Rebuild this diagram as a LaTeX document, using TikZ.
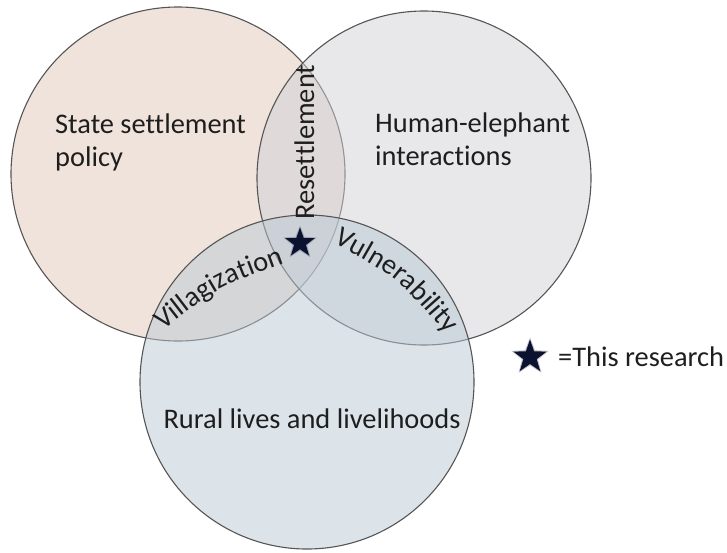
\documentclass[tikz,border=0pt]{standalone}
\usepackage{fontspec}
\setmainfont{Carlito}[Ligatures={NoCommon,NoRare,NoContextual}]
\usetikzlibrary{shapes.geometric,decorations.text}
\definecolor{ink}{HTML}{1E1E1E}
\definecolor{policyfill}{HTML}{E1C7B7}
\definecolor{elephantfill}{HTML}{D1D1D7}
\definecolor{ruralfill}{HTML}{B9C9D5}
\definecolor{rim}{HTML}{555555}
\definecolor{starblue}{HTML}{0B1230}
\newcommand\vennfont{\fontsize{28.4}{33}\selectfont}

\begin{document}
\begin{tikzpicture}[x=1pt,y=-1pt,
  venn/.style={circle, minimum size=334pt, inner sep=0pt, draw=rim,
               line width=1.1pt, fill opacity=0.5},
  vennlabel/.style={font=\vennfont, text=ink, inner sep=0pt},
  researchstar/.style={star, star points=5, star point ratio=2.5,
                       fill=starblue, inner sep=0pt},
  starhalo/.style={star, star points=5, star point ratio=2.3,
                   fill=starblue, fill opacity=0.25, inner sep=0pt},
  arctext/.style={decorate, decoration={text along path, text={|\vennfont|#1},
                  text align=center, text color=ink}}]
\useasboundingbox (0,0) rectangle (727,552);

% the three sets
\node[venn, fill=policyfill]   (policy)   at (178,174) {};
\node[venn, fill=elephantfill] (elephant) at (424,178) {};
\node[venn, fill=ruralfill]    (rural)    at (307,382) {};

% set labels
\node[vennlabel, anchor=base west, align=left] (policytext) at (55,166)
  {State settlement\\policy};
\node[vennlabel, anchor=base west, align=left] (elephanttext) at (375,165)
  {Human-elephant\\interactions};
\node[vennlabel, anchor=base] (ruraltext) at (312,428)
  {Rural lives and livelihoods};

% overlap labels
\node[vennlabel, anchor=base, rotate=90] (resettle) at (314,142) {Resettlement};
\path[arctext=Villagization] (160,333) .. controls (218,287) .. (288,262);
\path[arctext=Vulnerability] (332,242) .. controls (398,278) .. (448,336);

% research focus
\node[starhalo, minimum size=35pt] (focushalo) at (300,243) {};
\node[researchstar, minimum size=31pt] (focus) at (300,243) {};

% legend
\node[starhalo, minimum size=39pt] (keyhalo) at (530,357) {};
\node[researchstar, minimum size=35pt] (keystar) at (530,357) {};
\node[vennlabel, anchor=base west] (keytext) at (558,366) {=This research};
\end{tikzpicture}
\end{document}
